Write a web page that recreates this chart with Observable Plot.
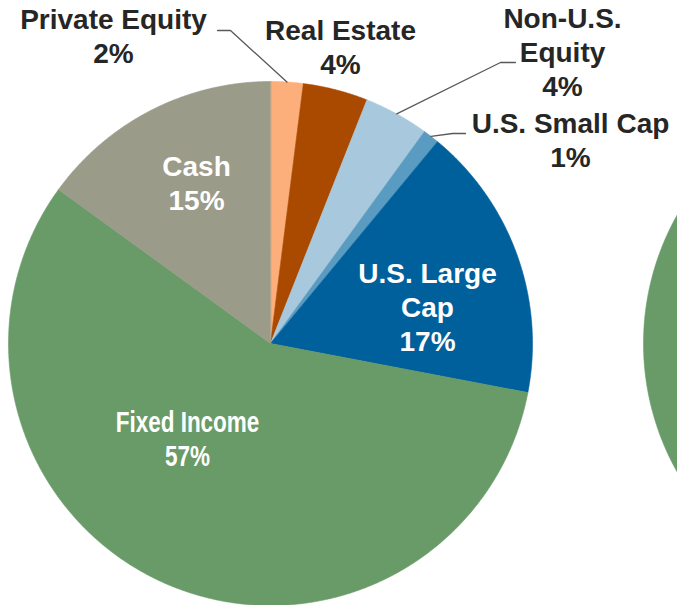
<!DOCTYPE html>
<html><head><meta charset="utf-8">
<script src="https://cdn.jsdelivr.net/npm/d3@7"></script>
<script src="https://cdn.jsdelivr.net/npm/@observablehq/plot@0.6"></script>
<style>html,body{margin:0;padding:0;background:#fff;overflow:hidden}</style>
</head><body><div id="chart"></div>
<script>
// ---- data ----
const categories = ["Private Equity","Real Estate","Non-U.S. Equity","U.S. Small Cap","U.S. Large Cap","Fixed Income","Cash"];
const shares = [2, 4, 4, 1, 17, 57, 15];
const labels = ["Private Equity\n2%","Real Estate\n4%","Non-U.S.\nEquity\n4%","U.S. Small Cap\n1%","U.S. Large\nCap\n17%","Fixed Income\n57%","Cash\n15%"];
// neighbouring (cropped) pie: only its Fixed Income slice is visible
const nextPieCategories = ["Fixed Income"];
const nextPieShares = [100];

// ---- styles / layout ----
const colors = ["#FDAF7B","#A94A00","#A8C9DD","#5A9BC1","#00609C","#689B68","#9A9B88"];
const W = 677, H = 605;
const pie1 = {cx: 270, cy: 343, r: 262};
const pie2 = {cx: 905, cy: 343, r: 262};
// label anchor (center x, top y), colour
const labelLayout = [
  {x: 113, y: 5, fill: "#262626", elbow: [[217,30],[230,30]]},
  {x: 340, y: 16, fill: "#262626"},
  {x: 562, y: 4, fill: "#262626", elbow: [[515,62],[500,62]]},
  {x: 570, y: 109, fill: "#262626", elbow: [[465,133],[452,133]]},
  {x: 427, y: 259, fill: "#ffffff"},
  {x: 187, y: 407, fill: "#ffffff", narrow: true},
  {x: 196, y: 152, fill: "#ffffff"}
];

function slices(cats, vals, p) {
  const arcs = d3.pie().sort(null).value(d => d)(vals);
  const pts = [];
  arcs.forEach((a, i) => {
    const n = Math.max(4, Math.ceil((a.endAngle - a.startAngle) / 0.005));
    pts.push({cat: cats[i], key: p.cx + "-" + i, x: p.cx, y: p.cy});
    for (let k = 0; k <= n; k++) {
      const t = a.startAngle + (a.endAngle - a.startAngle) * k / n;
      pts.push({cat: cats[i], key: p.cx + "-" + i, x: p.cx + p.r * Math.sin(t), y: p.cy - p.r * Math.cos(t)});
    }
  });
  return {arcs, pts};
}

const main = slices(categories, shares, pie1);
const next = slices(nextPieCategories, nextPieShares, pie2);

// leader lines: from label elbow to the arc at the slice's mid-angle
const leaders = [];
labelLayout.forEach((l, i) => {
  if (!l.elbow) return;
  const a = main.arcs[i];
  const m = (a.startAngle + a.endAngle) / 2;
  l.elbow.forEach(([x, y]) => leaders.push({id: i, x, y}));
  leaders.push({id: i, x: pie1.cx + pie1.r * Math.sin(m), y: pie1.cy - pie1.r * Math.cos(m)});
});

const labelRows = categories.map((c, i) => ({cat: c, text: labels[i], ...labelLayout[i]}));

const chart = Plot.plot({
  width: W, height: H, margin: 0,
  x: {domain: [0, W], range: [0, W], axis: null},
  y: {domain: [0, H], range: [0, H], axis: null},
  color: {domain: categories, range: colors},
  marks: [
    Plot.line(next.pts, {x: "x", y: "y", z: "key", fill: "cat", stroke: "cat", strokeWidth: 0.6, curve: "linear-closed", clip: true}),
    Plot.line(main.pts, {x: "x", y: "y", z: "key", fill: "cat", stroke: "cat", strokeWidth: 0.6, curve: "linear-closed"}),
    Plot.line(leaders, {x: "x", y: "y", z: "id", stroke: "#595959", strokeWidth: 1.3}),
    Plot.text(labelRows.filter(d => !d.narrow), {
      x: "x", y: "y", text: "text", fill: d => d.fill, lineAnchor: "top", lineHeight: 1.2,
      textAnchor: "middle", fontSize: 28, fontWeight: "bold",
      fontFamily: "'Liberation Sans', Arial, sans-serif"
    }),
    Plot.text(labelRows.filter(d => d.narrow), {
      x: "x", y: "y", text: "text", fill: d => d.fill, lineAnchor: "top", lineHeight: 1.15,
      textAnchor: "middle", fontSize: 30, fontWeight: "bold",
      fontFamily: "'Liberation Sans Narrow', 'Arial Narrow', 'Liberation Sans', sans-serif",
      className: "narrow-label"
    })
  ]
});
document.getElementById("chart").appendChild(chart);
// emulate the condensed (Arial Narrow) face used for the Fixed Income label
d3.select(chart).selectAll(".narrow-label text").each(function () {
  const t = d3.select(this);
  const tr = t.attr("transform") || "";
  const m = /translate\(([-\d.]+),\s*([-\d.]+)\)/.exec(tr);
  if (m) t.attr("transform", `translate(${m[1]},${m[2]}) scale(0.75,1)`);
});
</script>
</body></html>
